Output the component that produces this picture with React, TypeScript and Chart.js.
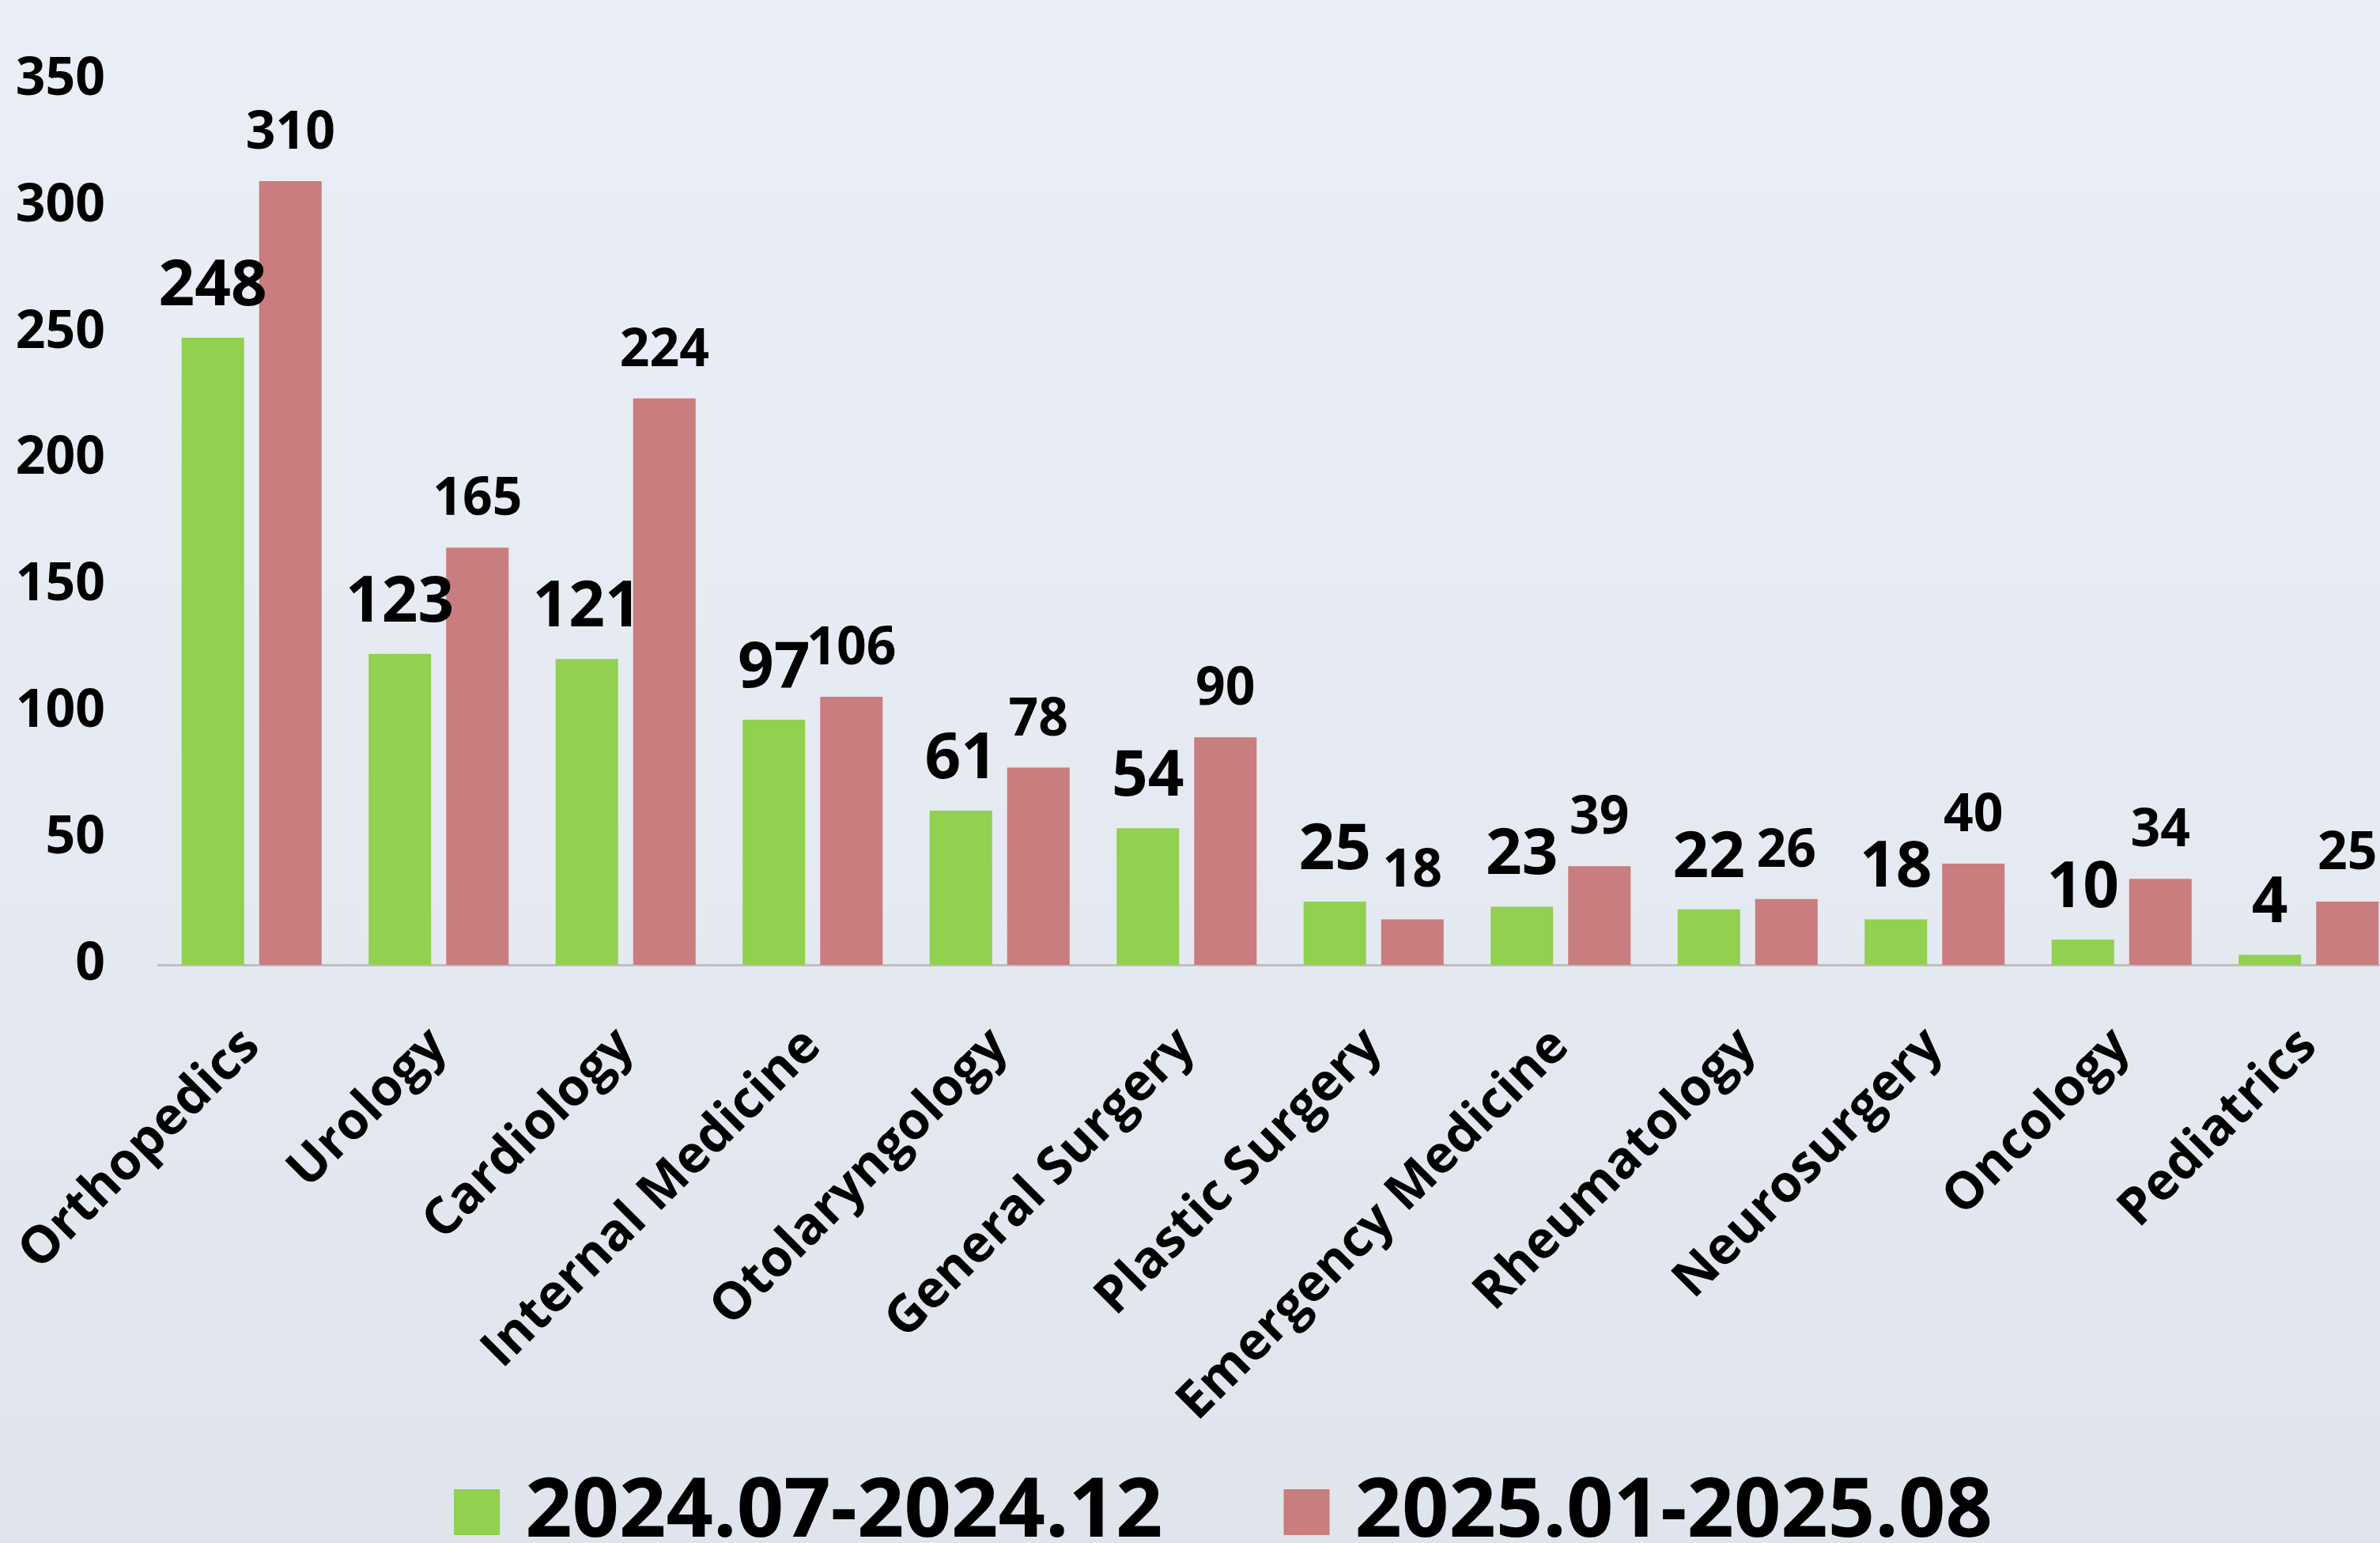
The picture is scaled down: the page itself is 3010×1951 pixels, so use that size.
import React, { useEffect, useRef } from 'react';
import { Chart, registerables } from 'chart.js';

Chart.register(...registerables);

const categories = [
  'Orthopedics',
  'Urology',
  'Cardiology',
  'Internal Medicine',
  'Otolaryngology',
  'General Surgery',
  'Plastic Surgery',
  'Emergency Medicine',
  'Rheumatology',
  'Neurosurgery',
  'Oncology',
  'Pediatrics',
];
const series2024 = [248, 123, 121, 97, 61, 54, 25, 23, 22, 18, 10, 4];
const series2025 = [310, 165, 224, 106, 78, 90, 18, 39, 26, 40, 34, 25];
const seriesLabels = ['2024.07-2024.12', '2025.01-2025.08'];
const seriesColors = ['#92D050', '#C97D7E'];
const yMin = 0;
const yMax = 350;
const yStep = 50;

const FONT = '"Open Sans", "Noto Sans", sans-serif';

const valueLabelPlugin = {
  id: 'valueLabels',
  afterDatasetsDraw(chart: any) {
    const ctx = chart.ctx;
    chart.data.datasets.forEach((ds: any, i: number) => {
      const meta = chart.getDatasetMeta(i);
      ctx.save();
      ctx.font = `bold ${i === 0 ? 80 : 66}px ${FONT}`;
      ctx.fillStyle = '#000';
      ctx.textAlign = 'center';
      ctx.textBaseline = 'alphabetic';
      meta.data.forEach((bar: any, j: number) => {
        ctx.fillText(String(ds.data[j]), bar.x, bar.y - 41);
      });
      ctx.restore();
    });
  },
};

const legendPlugin = {
  id: 'customLegend',
  afterDraw(chart: any) {
    const ctx = chart.ctx;
    const box = 58;
    const gapText = 32;
    const gapItem = 153;
    const centerX = 1547;
    const baseline = 1943;
    const boxTop = 1883;
    ctx.save();
    ctx.font = `bold 104px ${FONT}`;
    const items = chart.data.datasets.map((ds: any) => ({
      label: ds.label,
      color: ds.backgroundColor,
      w: ctx.measureText(ds.label).width,
    }));
    let total = 0;
    items.forEach((it: any, k: number) => {
      total += box + gapText + it.w + (k > 0 ? gapItem : 0);
    });
    let x = centerX - total / 2;
    items.forEach((it: any) => {
      ctx.fillStyle = it.color;
      ctx.fillRect(x, boxTop, box, box);
      x += box + gapText;
      ctx.fillStyle = '#000';
      ctx.textAlign = 'left';
      ctx.textBaseline = 'alphabetic';
      ctx.fillText(it.label, x, baseline);
      x += it.w + gapItem;
    });
    ctx.restore();
  },
};

function BarChart() {
  const ref = useRef<HTMLCanvasElement | null>(null);
  useEffect(() => {
    if (!ref.current) return;
    const chart = new Chart(ref.current, {
      type: 'bar',
      data: {
        labels: categories,
        datasets: [
          {
            label: seriesLabels[0],
            data: series2024,
            backgroundColor: seriesColors[0],
            categoryPercentage: 0.829,
            barPercentage: 0.806,
          },
          {
            label: seriesLabels[1],
            data: series2025,
            backgroundColor: seriesColors[1],
            categoryPercentage: 0.829,
            barPercentage: 0.806,
          },
        ],
      },
      options: {
        responsive: false,
        animation: false,
        layout: { padding: { top: 101, right: 22, left: 0, bottom: 0 } },
        plugins: {
          legend: { display: false },
          title: { display: false },
          tooltip: { enabled: false },
        },
        scales: {
          x: {
            grid: { display: false, drawTicks: false },
            border: { display: true, color: '#BFBFBF', width: 3 },
            ticks: {
              autoSkip: false,
              minRotation: 45,
              maxRotation: 45,
              color: '#000',
              padding: 65,
              font: { family: FONT, size: 65, weight: 'bold' },
            },
            afterFit: (scale: any) => {
              scale.height = 731;
              scale.paddingLeft = 0;
              scale.paddingRight = 0;
            },
          },
          y: {
            min: yMin,
            max: yMax,
            grid: { display: false, drawTicks: false },
            border: { display: false },
            ticks: {
              stepSize: yStep,
              color: '#000',
              padding: 67,
              font: { family: FONT, size: 66, weight: 'bold' },
            },
            afterFit: (scale: any) => {
              scale.width = 200;
              scale.paddingTop = 0;
              scale.paddingBottom = 0;
            },
          },
        },
      },
      plugins: [valueLabelPlugin, legendPlugin],
    } as any);
    return () => chart.destroy();
  }, []);
  return <canvas ref={ref} width={3060} height={1951} style={{ display: 'block' }} />;
}

export default function App() {
  return (
    <div
      style={{
        position: 'fixed',
        top: 0,
        left: 0,
        width: 3010,
        height: 1951,
        overflow: 'hidden',
        background: 'linear-gradient(180deg, #EAEEF7 0%, #E6EAF3 50%, #E0E4ED 100%)',
      }}
    >
      <BarChart />
    </div>
  );
}
